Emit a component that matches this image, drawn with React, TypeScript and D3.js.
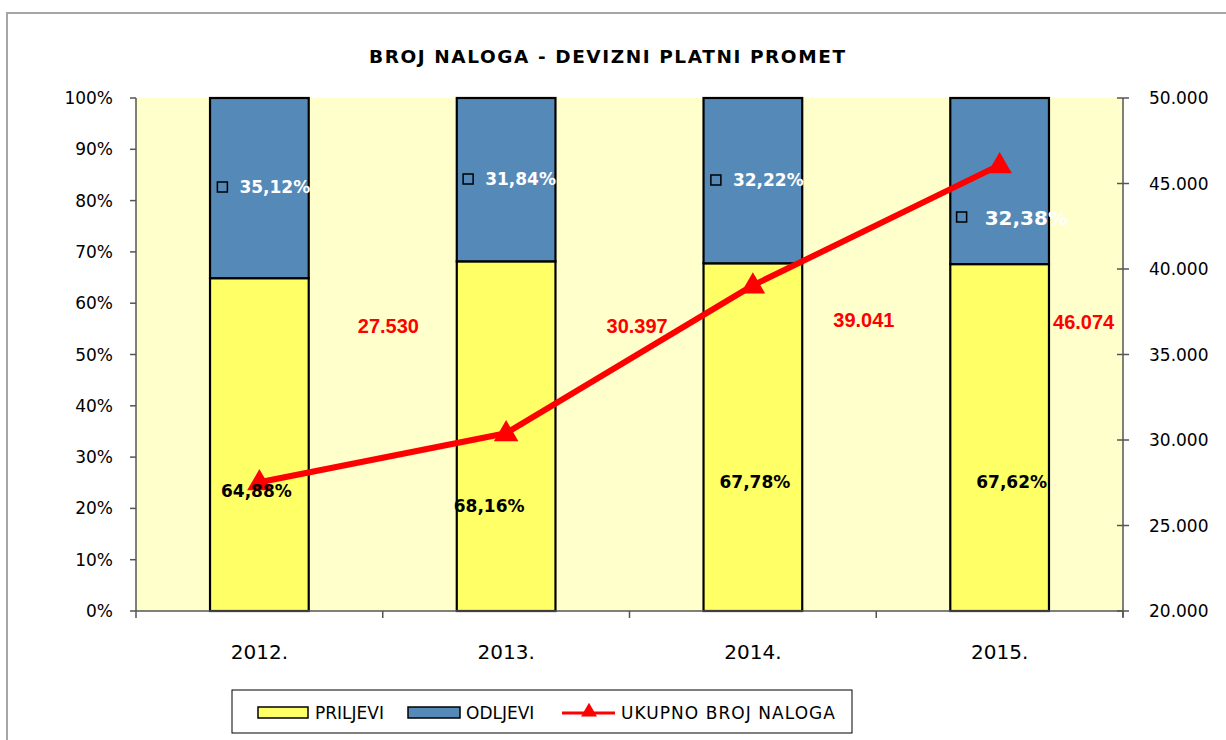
import React from "react";
import * as d3 from "d3";

const years = ["2012.", "2013.", "2014.", "2015."];
const priljevi = [64.88, 68.16, 67.78, 67.62];
const odljevi = [35.12, 31.84, 32.22, 32.38];
const ukupno = [27530, 30397, 39041, 46074];
const leftTicks = [0, 10, 20, 30, 40, 50, 60, 70, 80, 90, 100];
const rightTicks = [20000, 25000, 30000, 35000, 40000, 45000, 50000];

// label placement (Excel-like manual offsets)
const redLabelDx = [129, 131, 111, 84];
const redLabelY = [333, 333, 327, 329];
const prLabelDx = [-3, -17, 2, 12];
const prLabelY = [497, 512, 488, 488];
const odSquareDx = [-37, -38, -37, -38];
const odLabelY = [187, 179, 180, 217];
const odLabelSize = [17, 17, 17, 20];

const W = 1226, H = 740;
const L = 136, R = 1123, T = 98, B = 611;

const fmtPct = (v: number) => v.toFixed(2).replace(".", ",") + "%";
const fmtNum = (v: number) => d3.format(",")(v).replace(/,/g, ".");

export default function App() {
  const x = d3.scaleBand<string>().domain(years).range([L, R]).paddingInner(0).paddingOuter(0);
  const bw = x.bandwidth() * 0.4;
  const yL = d3.scaleLinear().domain([0, 100]).range([B, T]);
  const yR = d3.scaleLinear().domain([20000, 50000]).range([B, T]);
  const cx = (d: string) => (x(d) as number) + x.bandwidth() / 2;
  const line = d3.line<number>().x((_, i) => cx(years[i])).y((v) => yR(v));
  const tri = d3.symbol().type(d3.symbolTriangle).size(260)() as string;
  const font = "'DejaVu Sans', sans-serif";

  return (
    <svg width={W} height={H} style={{ position: "absolute", left: 0, top: 0, background: "#fff" }}>
      <rect x={7} y={13} width={1240} height={760} fill="#fff" stroke="#a6a6a6" strokeWidth={2} />
      <text x={607} y={63} textAnchor="middle" fontFamily={font} fontWeight="bold" fontSize={18.5}
        textLength={476} lengthAdjust="spacing">BROJ NALOGA - DEVIZNI PLATNI PROMET</text>
      <rect x={L} y={T} width={R - L} height={B - T} fill="#FFFFCC" />
      {years.map((yr, i) => (
        <g key={yr}>
          <rect x={cx(yr) - bw / 2} y={yL(priljevi[i])} width={bw} height={B - yL(priljevi[i])}
            fill="#FFFF66" stroke="#000" strokeWidth={2.2} />
          <rect x={cx(yr) - bw / 2} y={yL(100)} width={bw} height={yL(priljevi[i]) - yL(100)}
            fill="#5589B8" stroke="#000" strokeWidth={2.2} />
        </g>
      ))}
      {/* left axis */}
      <line x1={L} x2={L} y1={T} y2={B} stroke="#555" strokeWidth={1.5} />
      {leftTicks.map((t) => (
        <g key={t}>
          <line x1={L - 6} x2={L} y1={yL(t)} y2={yL(t)} stroke="#555" strokeWidth={1.5} />
          <text x={113} y={yL(t) + 6} textAnchor="end" fontFamily={font} fontSize={17}>{t}%</text>
        </g>
      ))}
      {/* right axis */}
      <line x1={R} x2={R} y1={T} y2={B + 6} stroke="#555" strokeWidth={1.5} />
      {rightTicks.map((t) => (
        <g key={t}>
          <line x1={R - 6} x2={R + 6} y1={yR(t)} y2={yR(t)} stroke="#555" strokeWidth={1.5} />
          <text x={1149} y={yR(t) + 6} fontFamily={font} fontSize={17}>{fmtNum(t)}</text>
        </g>
      ))}
      {/* x axis */}
      <line x1={L} x2={R} y1={B} y2={B} stroke="#555" strokeWidth={1.5} />
      {[...years.map((d) => x(d) as number), R].map((v, i) => (
        <line key={i} x1={v} x2={v} y1={B} y2={B + 7} stroke="#555" strokeWidth={1.5} />
      ))}
      {years.map((yr) => (
        <text key={yr} x={cx(yr)} y={659} textAnchor="middle" fontFamily={font} fontSize={20}>{yr}</text>
      ))}
      {/* red labels */}
      {years.map((yr, i) => (
        <text key={yr} x={cx(yr) + redLabelDx[i]} y={redLabelY[i]} textAnchor="middle"
          fontFamily="'Liberation Sans', Arial, sans-serif" fontWeight="bold" fontSize={20} fill="#FF0000">
          {fmtNum(ukupno[i])}
        </text>
      ))}
      {/* line */}
      <path d={line(ukupno) as string} fill="none" stroke="#FF0000" strokeWidth={6} strokeLinejoin="round" />
      {ukupno.map((v, i) => (
        <path key={i} d={tri} transform={`translate(${cx(years[i])},${yR(v) + 1})`} fill="#FF0000" />
      ))}
      {/* percent labels */}
      {years.map((yr, i) => (
        <text key={"p" + yr} x={cx(yr) + prLabelDx[i]} y={prLabelY[i]} textAnchor="middle"
          fontFamily={font} fontWeight="bold" fontSize={17} fill="#000">{fmtPct(priljevi[i])}</text>
      ))}
      {years.map((yr, i) => (
        <g key={"o" + yr}>
          <rect x={cx(yr) + odSquareDx[i] - 5} y={odLabelY[i] - 5} width={10} height={10}
            fill="none" stroke="#000" strokeWidth={1.5} />
          <text x={cx(yr) + odSquareDx[i] + 17 + (odLabelSize[i] > 17 ? 6 : 0)} y={odLabelY[i] + 6 + (odLabelSize[i] > 17 ? 2 : 0)}
            fontFamily={font} fontWeight="bold" fontSize={odLabelSize[i]} fill="#fff">{fmtPct(odljevi[i])}</text>
        </g>
      ))}
      {/* legend */}
      <rect x={232} y={690} width={620} height={43} fill="#fff" stroke="#000" strokeWidth={1} />
      <rect x={258} y={707} width={50} height={11} fill="#FFFF66" stroke="#000" strokeWidth={1.5} />
      <text x={315} y={719} fontFamily={font} fontSize={17}>PRILJEVI</text>
      <rect x={408} y={707} width={52} height={11} fill="#5589B8" stroke="#000" strokeWidth={1.5} />
      <text x={466} y={719} fontFamily={font} fontSize={17}>ODLJEVI</text>
      <line x1={562} x2={615} y1={713} y2={713} stroke="#FF0000" strokeWidth={3} />
      <path d={d3.symbol().type(d3.symbolTriangle).size(110)() as string} transform="translate(589,712)" fill="#FF0000" />
      <text x={621} y={719} fontFamily={font} fontSize={17} textLength={214} lengthAdjust="spacing">UKUPNO BROJ NALOGA</text>
    </svg>
  );
}
